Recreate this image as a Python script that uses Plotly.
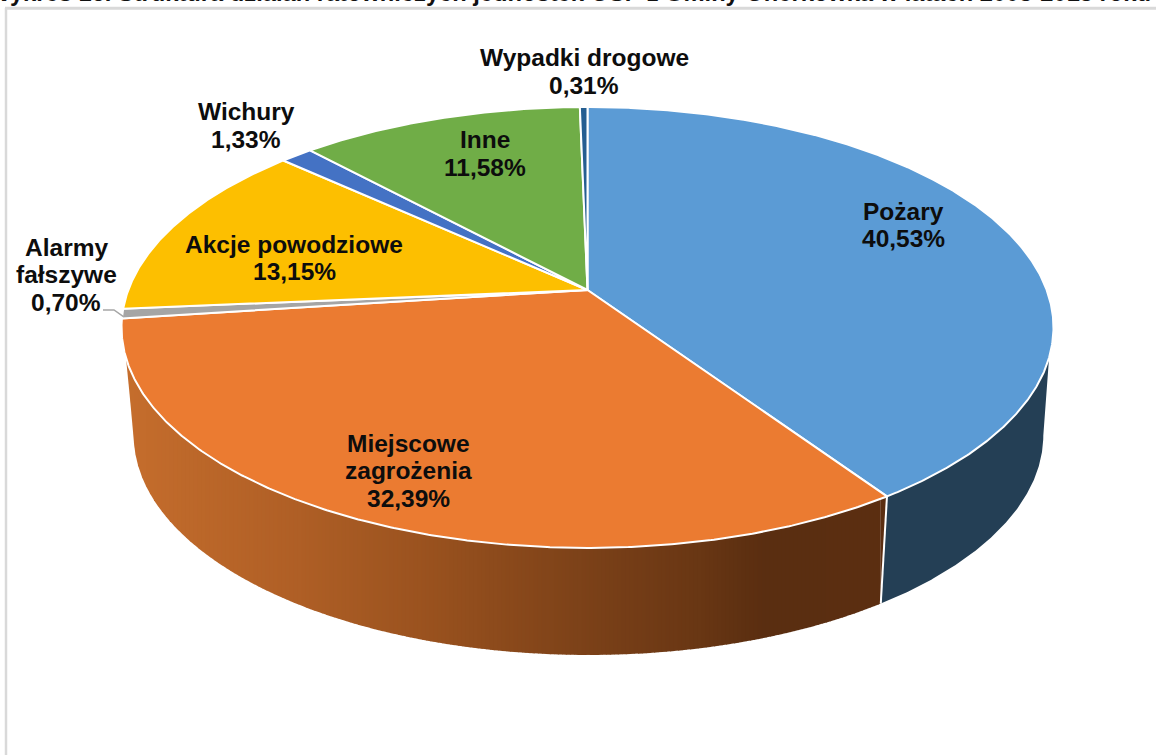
import numpy as np
import plotly.graph_objects as go

# ---- data ----
categories = ["Pożary", "Miejscowe zagrożenia", "Alarmy fałszywe", "Akcje powodziowe",
              "Wichury", "Inne", "Wypadki drogowe"]
values = [40.53, 32.39, 0.70, 13.15, 1.33, 11.58, 0.31]
value_labels = ["40,53%", "32,39%", "0,70%", "13,15%", "1,33%", "11,58%", "0,31%"]
colors = ["#5B9BD5", "#EB7B31", "#A5A5A5", "#FDBF00", "#4472C4", "#70AD47", "#255E91"]
title_text = "Wykres 16. Struktura działań ratowniczych jednostek OSP z Gminy Onerkówka w latach 2005-2015 roku"

# pie projection (perspective of a tilted disc)
CX, A, K = 587.5, 459.2, 0.17
TOP_Y0, TOP_B = 290.0, -164.8
BOT_CX, BOT_Y0, BOT_B, BOT_S = 588.5, 398.0, -145.6, 0.976
WALL_START_Y = 358
WALL_STOPS_X = [122, 300, 450, 580, 700, 765, 885]
WALL_STOPS_RGB = [(198, 110, 45), (175, 95, 38), (150, 80, 30), (125, 66, 25),
                  (105, 55, 20), (90, 46, 17), (92, 47, 18)]
BLUE_WALL = "#243F55"


def top_pt(theta):
    u, v = np.sin(theta), np.cos(theta)
    d = 1 + K * v
    return CX + A * u / d, (TOP_Y0 + TOP_B * v) / d


def bot_pt(theta):
    u, v = np.sin(theta), np.cos(theta)
    d = 1 + K * v
    return BOT_CX + BOT_S * A * u / d, (BOT_Y0 + BOT_B * v) / d


def wall_color(x):
    c = [np.interp(x, WALL_STOPS_X, [s[i] for s in WALL_STOPS_RGB]) for i in range(3)]
    return "rgb(%d,%d,%d)" % tuple(c)


total = sum(values)
edges = np.concatenate([[0], np.cumsum(values)]) / total * 2 * np.pi

fig = go.Figure()


def poly(xs, ys, fill, line=None, width=0):
    fig.add_trace(go.Scatter(x=list(xs), y=list(ys), mode="lines", fill="toself", fillcolor=fill,
                             line=dict(color=line or fill, width=width), hoverinfo="skip",
                             showlegend=False))


seam_top = top_pt(edges[1])
seam_bot = bot_pt(edges[1])

# side wall of the first slice (flat dark blue): from the seam round to the right silhouette
t = np.linspace(np.pi / 4, edges[1], 400)
tx, ty = top_pt(t)
bx, by = bot_pt(t)
i_b = int(np.argmax(bx))
i_t = int(np.argmin(np.abs(ty - WALL_START_Y)))
poly(np.r_[tx[i_t:], bx[i_b:][::-1]], np.r_[ty[i_t:], by[i_b:][::-1]], BLUE_WALL)

# side wall of the second slice: vertical bands for a horizontal gradient
t = np.linspace(edges[1], 3 * np.pi / 2 + 0.2, 600)
tx, ty = top_pt(t)
bx, by = bot_pt(t)
i_b = int(np.argmin(bx))
i_t = int(np.argmin(np.abs(ty[t > np.pi] - WALL_START_Y))) + int(np.sum(t <= np.pi))
low_x = np.r_[tx[i_t], bx[:i_b + 1][::-1]]
low_y = np.r_[ty[i_t], by[:i_b + 1][::-1]]
i_l = int(np.argmin(tx))
up_x, up_y = tx[:i_l + 1][::-1], ty[:i_l + 1][::-1]
start = float(tx[i_t])
end = float(seam_bot[0])
band_edges = np.arange(start, end, 4.0)
band_edges = np.r_[band_edges, end]
for x0, x1 in zip(band_edges[:-1], band_edges[1:]):
    xx = np.linspace(x0, x1 + 0.6 if x1 < end else x1, 4)
    yl = np.interp(xx, low_x, low_y)
    yu = np.interp(xx, up_x, up_y)
    poly(np.r_[xx, xx[::-1]], np.r_[yu, yl[::-1]], wall_color((x0 + x1) / 2))
# small wedge left of the slanted seam
poly([seam_top[0], seam_bot[0], seam_bot[0]], [seam_top[1], seam_bot[1], seam_top[1] - 5],
     wall_color(end))

# white seam between the two walls
fig.add_trace(go.Scatter(x=[seam_top[0], seam_bot[0]], y=[seam_top[1], seam_bot[1]], mode="lines",
                         hoverinfo="skip", showlegend=False, line=dict(color="white", width=2)))

# top face
for i, col in enumerate(colors):
    t = np.linspace(edges[i], edges[i + 1], max(4, int(values[i] * 12)))
    x, y = top_pt(t)
    poly(np.r_[CX, x, CX], np.r_[TOP_Y0, y, TOP_Y0], col, "white", 2)

# leader line of the small slice
mid = (edges[2] + edges[3]) / 2
lx, ly = top_pt(mid)
fig.add_trace(go.Scatter(x=[103, 114, lx + 1], y=[310, 310, ly + 3], mode="lines", hoverinfo="skip",
                         showlegend=False, line=dict(color="#A6A6A6", width=1.5)))

# labels (one annotation per line to keep the tight line pitch)
label_lines = [
    (["Pożary", value_labels[0]], 903, [211, 238]),
    (["Miejscowe", "zagrożenia", value_labels[1]], 408, [443, 470, 498]),
    (["Alarmy", "fałszywe", value_labels[2]], 66, [247, 274, 302]),
    (["Akcje powodziowe", value_labels[3]], 294, [244, 271]),
    (["Wichury", value_labels[4]], 246, [111, 139]),
    (["Inne", value_labels[5]], 485, [139, 167]),
    (["Wypadki drogowe", value_labels[6]], 584, [57, 85]),
]
for lines, x, ys in label_lines:
    for text, y in zip(lines, ys):
        fig.add_annotation(x=x, y=y, text=text, showarrow=False, xanchor="center", yanchor="middle",
                           font=dict(family="Liberation Sans", size=24.5, color="#0D0D0D", weight="bold"))

# caption, cut by the top edge of the picture as in the reference
fig.add_annotation(xref="paper", yref="paper", x=-14 / 1156, y=1 + 7 / 755, text=title_text, showarrow=False,
                   xanchor="left", yanchor="middle",
                   font=dict(family="Liberation Sans", size=23.7, color="#111111", weight="bold"))

# frame of the chart area
fig.add_shape(type="line", x0=6, x1=6, y0=8, y1=755, line=dict(color="#D9D9D9", width=2.5), layer="below")
fig.add_shape(type="line", x0=5, x1=1156, y0=8.3, y1=8.3, line=dict(color="#D9D9D9", width=3), layer="below")

fig.update_layout(
    width=1156, height=755, margin=dict(l=0, r=0, t=0, b=0), autosize=False,
    paper_bgcolor="white", plot_bgcolor="white", showlegend=False,
    xaxis=dict(range=[0, 1156], visible=False, fixedrange=True),
    yaxis=dict(range=[755, 0], visible=False, fixedrange=True),
)
fig.write_html("out.html", config={"displayModeBar": False},
               post_script="document.body.style.margin='0';document.body.style.overflow='hidden';")
